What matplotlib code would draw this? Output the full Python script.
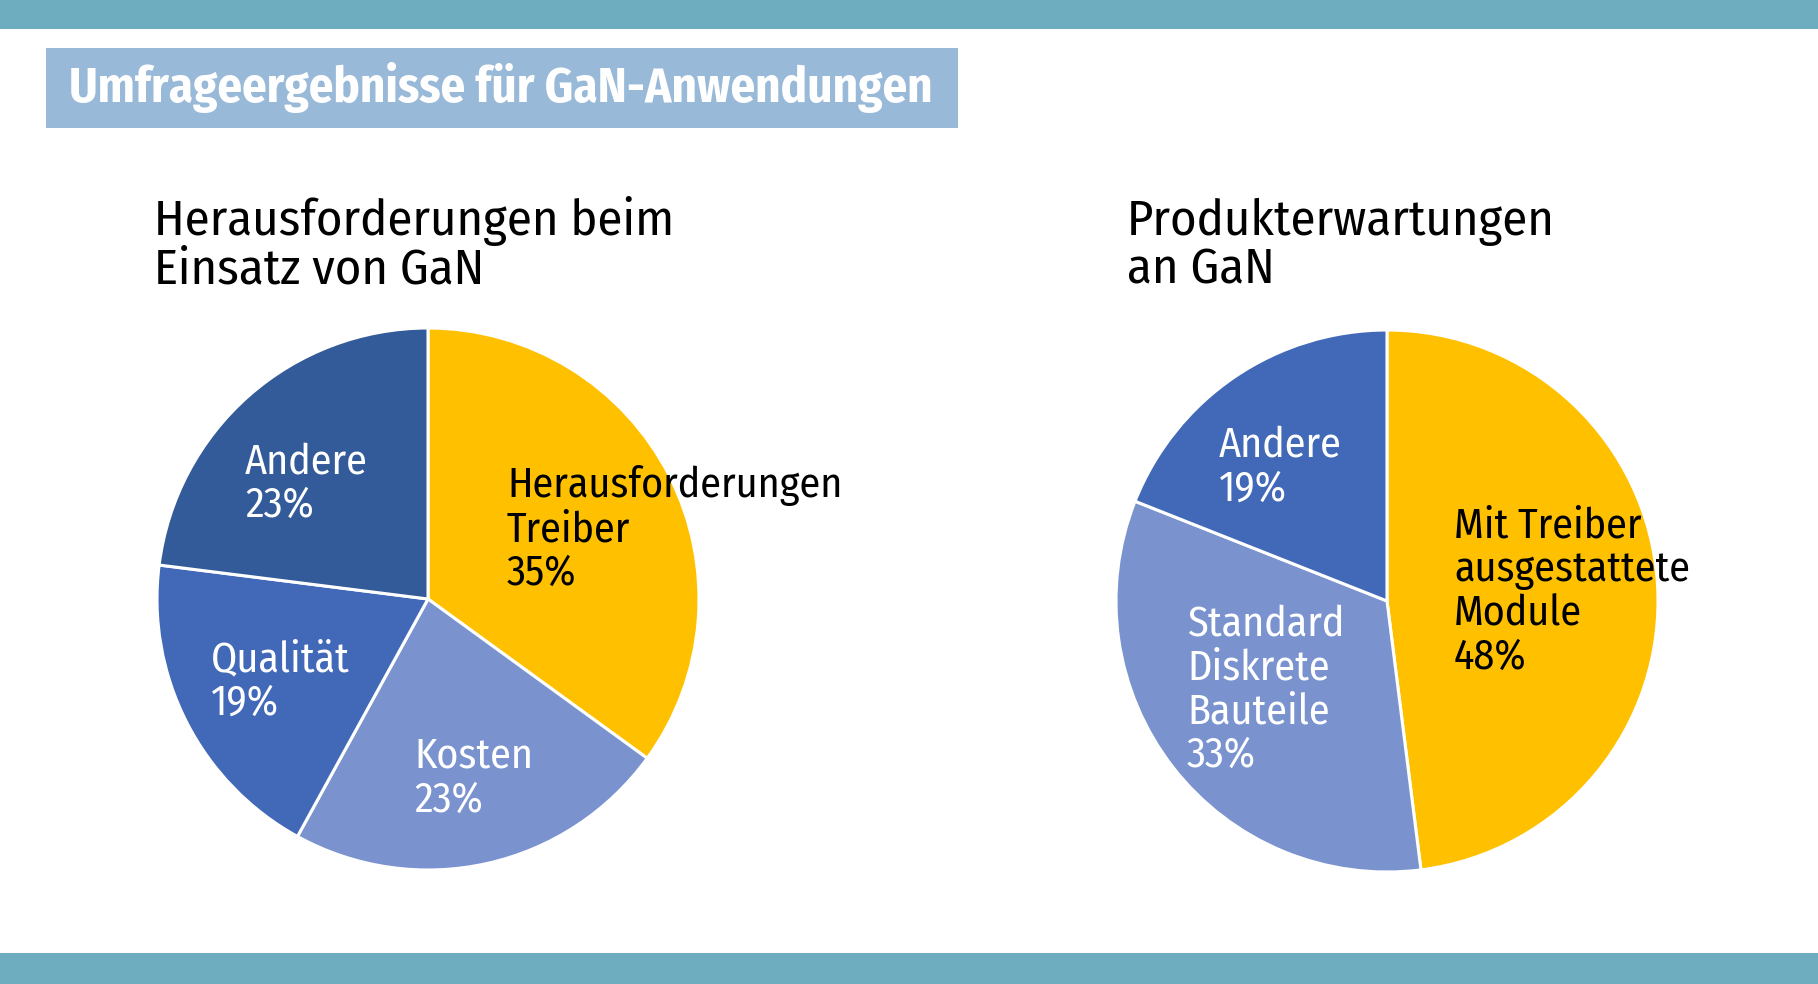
import matplotlib
matplotlib.use("Agg")
import matplotlib.pyplot as plt
from matplotlib import font_manager
from matplotlib.patches import Rectangle

W, H = 1818, 984

# ---- data ----
title = "Umfrageergebnisse für GaN-Anwendungen"

left_title = ["Herausforderungen beim", "Einsatz von GaN"]
left_labels = ["Herausforderungen\nTreiber", "Kosten", "Qualität", "Andere"]
left_values = [35, 23, 19, 23]

right_title = ["Produkterwartungen", "an GaN"]
right_labels = ["Mit Treiber\nausgestattete\nModule", "Standard\nDiskrete\nBauteile", "Andere"]
right_values = [48, 33, 19]

# ---- styles ----
yellow, light, mid, dark = "#FFC000", "#7A93CF", "#4169B8", "#335A99"
left_colors = [yellow, light, mid, dark]
right_colors = [yellow, light, mid]
left_txt = ["black", "white", "white", "white"]
right_txt = ["black", "white", "white"]

# label anchors: left x, first baseline (pixels from top)
left_pos = [(507, 497), (414, 768), (211, 671), (245, 473)]
right_pos = [(1454, 537), (1187, 635), (1219, 457)]

avail = set(f.name for f in font_manager.fontManager.ttflist)
font = "DejaVu Sans"
for cand in ["Fira Sans Condensed", "PT Sans Narrow", "Roboto Condensed",
             "Open Sans Condensed", "Sofia Sans Condensed", "Liberation Sans Narrow"]:
    if cand in avail:
        font = cand
        break
plt.rcParams["font.family"] = [font, "DejaVu Sans"]

fig = plt.figure(figsize=(W / 100, H / 100), dpi=100)
fig.patch.set_facecolor("white")
renderer = fig.canvas.get_renderer()


def fx(x):
    return x / W


def fy(y):
    return 1 - y / H


def fit_size(text, width, weight="normal"):
    t = fig.text(0, 0, text, fontsize=20, fontweight=weight)
    w = t.get_window_extent(renderer=renderer).width
    t.remove()
    return 20 * width / w


# bands and title box
fig.add_artist(Rectangle((0, fy(29)), 1, 29 / H, transform=fig.transFigure,
                         color="#6DADBF", lw=0))
fig.add_artist(Rectangle((0, 0), 1, (H - 953) / H, transform=fig.transFigure,
                         color="#6DADBF", lw=0))
fig.add_artist(Rectangle((fx(46), fy(128)), (958 - 46) / W, 80 / H,
                         transform=fig.transFigure, color="#99B9D8", lw=0))

title_fs = fit_size(title, 867, "bold")
fig.text(fx(69), fy(102), title, fontsize=title_fs, fontweight="bold",
         color="white", va="baseline", ha="left")

sub_fs = fit_size(left_title[0], 521)
label_fs = fit_size("Herausforderungen", 336)


def draw_pie(cx, cy, r, values, labels, colors, txt_colors, pos, head, head_x):
    ax = fig.add_axes([fx(cx - r), fy(cy + r), 2 * r / W, 2 * r / H])
    ax.pie(values, colors=colors, startangle=90, counterclock=False,
           wedgeprops=dict(edgecolor="white", linewidth=2.2))
    ax.set_xlim(-1, 1)
    ax.set_ylim(-1, 1)
    ax.axis("off")

    for i, line in enumerate(head):
        fig.text(fx(head_x), fy(235 + i * 48), line, fontsize=sub_fs,
                 color="black", va="baseline", ha="left")

    for lab, v, c, (x, y) in zip(labels, values, txt_colors, pos):
        lines = lab.split("\n") + [f"{v}%"]
        for i, line in enumerate(lines):
            fig.text(fx(x), fy(y + i * 44), line, fontsize=label_fs,
                     color=c, va="baseline", ha="left")


draw_pie(428, 599, 271, left_values, left_labels, left_colors, left_txt,
         left_pos, left_title, 154)
draw_pie(1387, 601, 271, right_values, right_labels, right_colors, right_txt,
         right_pos, right_title, 1127)

fig.savefig("out.png", dpi=100, facecolor="white")
